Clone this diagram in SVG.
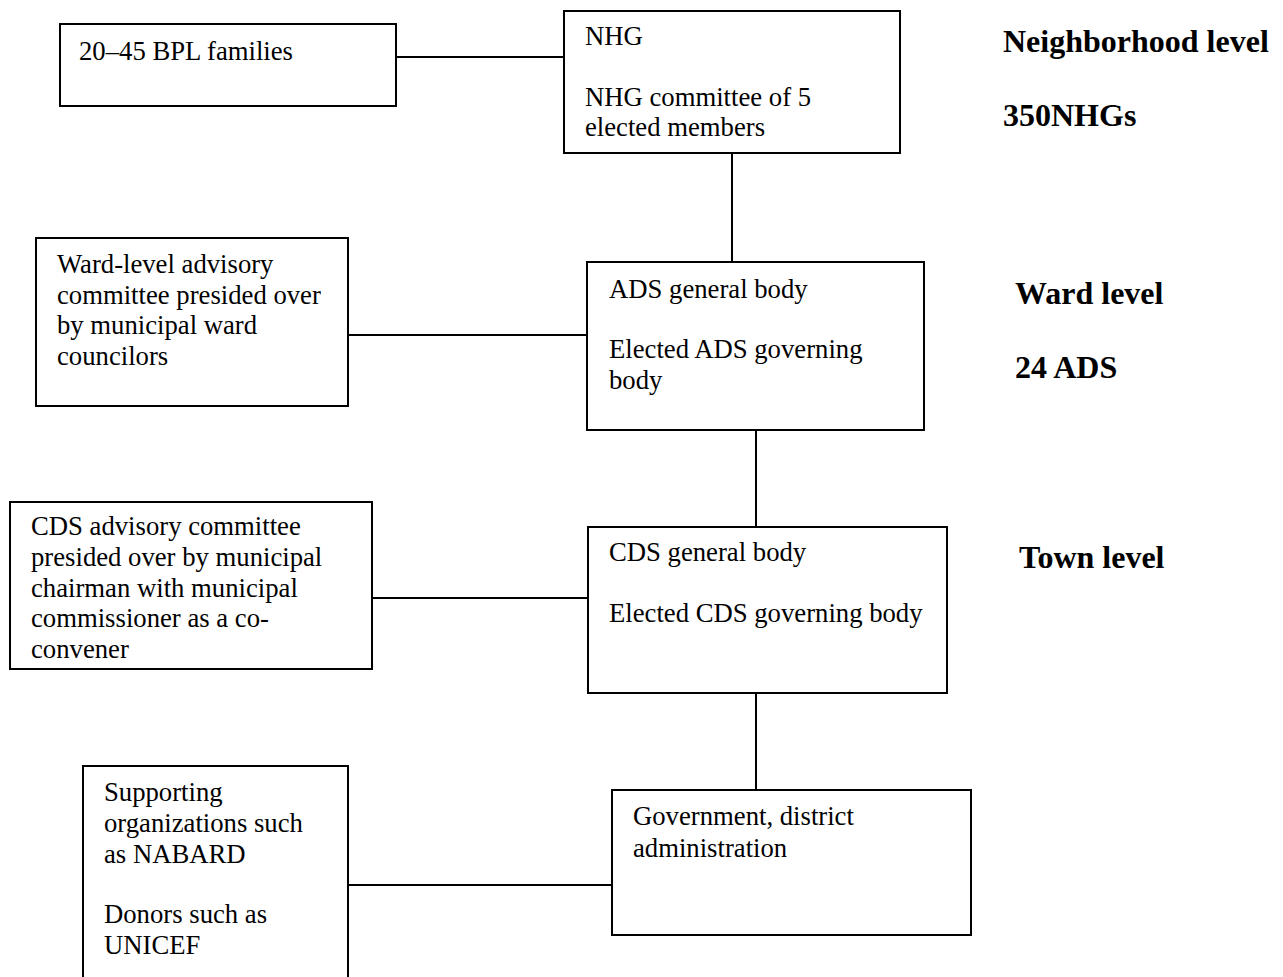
<svg xmlns="http://www.w3.org/2000/svg" width="1283" height="977" viewBox="0 0 1283 977">
<style>
.box{fill:#fff;stroke:#000;stroke-width:2}
.t{font-family:"Liberation Serif","Times New Roman",serif;font-size:26.7px;fill:#000}
.b{font-family:"Liberation Serif","Times New Roman",serif;font-size:32px;font-weight:bold;fill:#000}
.c{stroke:#000;stroke-width:2;fill:none}
</style>
<rect width="1283" height="977" fill="#fff"/>
<g id="connectors">
<line class="c" x1="396" y1="57" x2="564" y2="57"/>
<line class="c" x1="732" y1="153" x2="732" y2="262"/>
<line class="c" x1="348" y1="335" x2="587" y2="335"/>
<line class="c" x1="756" y1="430" x2="756" y2="527"/>
<line class="c" x1="372" y1="598" x2="588" y2="598"/>
<line class="c" x1="756" y1="693" x2="756" y2="790"/>
<line class="c" x1="348" y1="885" x2="612" y2="885"/>
</g>
<g id="bpl">
<rect class="box" x="60" y="24" width="336" height="82"/>
<text class="t" x="79" y="60">20–45 BPL families</text>
</g>
<g id="nhg">
<rect class="box" x="564" y="11" width="336" height="142"/>
<text class="t" x="585" y="45">NHG</text>
<text class="t" x="585" y="106">NHG committee of 5</text>
<text class="t" x="585" y="136">elected members</text>
</g>
<g id="ward-advisory">
<rect class="box" x="36" y="238" width="312" height="168"/>
<text class="t" x="57" y="273">Ward-level advisory</text>
<text class="t" x="57" y="304">committee presided over</text>
<text class="t" x="57" y="334">by municipal ward</text>
<text class="t" x="57" y="365">councilors</text>
</g>
<g id="ads">
<rect class="box" x="587" y="262" width="337" height="168"/>
<text class="t" x="609" y="298">ADS general body</text>
<text class="t" x="609" y="358">Elected ADS governing</text>
<text class="t" x="609" y="389">body</text>
</g>
<g id="cds-advisory">
<rect class="box" x="10" y="502" width="362" height="167"/>
<text class="t" x="31" y="535">CDS advisory committee</text>
<text class="t" x="31" y="566">presided over by municipal</text>
<text class="t" x="31" y="597">chairman with municipal</text>
<text class="t" x="31" y="627">commissioner as a co-</text>
<text class="t" x="31" y="658">convener</text>
</g>
<g id="cds">
<rect class="box" x="588" y="527" width="359" height="166"/>
<text class="t" x="609" y="561">CDS general body</text>
<text class="t" x="609" y="622">Elected CDS governing body</text>
</g>
<g id="government">
<rect class="box" x="612" y="790" width="359" height="145"/>
<text class="t" x="633" y="825">Government, district</text>
<text class="t" x="633" y="857">administration</text>
</g>
<g id="supporting">
<rect class="box" x="83" y="766" width="265" height="230"/>
<text class="t" x="104" y="801">Supporting</text>
<text class="t" x="104" y="832">organizations such</text>
<text class="t" x="104" y="863">as NABARD</text>
<text class="t" x="104" y="923">Donors such as</text>
<text class="t" x="104" y="954">UNICEF</text>
</g>
<g id="level-labels">
<text class="b" x="1003" y="52">Neighborhood level</text>
<text class="b" x="1003" y="126">350NHGs</text>
<text class="b" x="1015" y="304">Ward level</text>
<text class="b" x="1015" y="378">24 ADS</text>
<text class="b" x="1019" y="568">Town level</text>
</g>
</svg>
